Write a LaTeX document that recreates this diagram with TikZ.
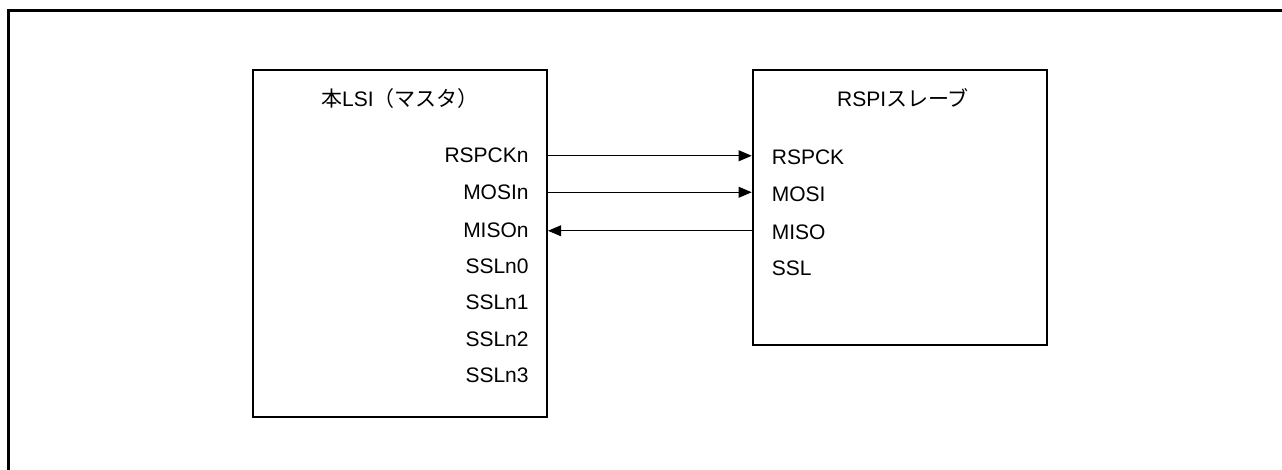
\documentclass[tikz,border=0pt]{standalone}
\usepackage{fontspec}
\setmainfont{Liberation Sans}
\newfontfamily\jpfont{Noto Sans CJK JP}
\usetikzlibrary{arrows.meta}
\begin{document}
\begin{tikzpicture}[x=0.5pt,y=0.5pt,
  every node/.style={font=\fontsize{10.5pt}{12pt}\selectfont, inner sep=0pt},
  blockbox/.style={draw, line width=1pt, minimum width=147.15pt, inner sep=0pt},
  lbl/.style={anchor=base east},
  rlbl/.style={anchor=base west},
  sig/.style={line width=0.55pt, -{Triangle[length=6.5pt,width=5.4pt]}}]
\useasboundingbox (0,0) rectangle (1282,-470);
\begin{scope}
\clip (0,0) rectangle (1282,-470);
\draw[line width=1.35pt] (8.6,-480) -- (8.6,-10.8) -- (1295,-10.8);
\end{scope}
% boxes
\node[blockbox, minimum height=173.35pt] (lsi) at (399.85,-243.35) {};
\node[blockbox, minimum height=137.5pt] (slv) at (899.85,-207.5) {};
% titles
\node[anchor=base] (lsititle) at (400,-107) {{\jpfont 本}LSI{\jpfont （マスタ）}};
\node[anchor=base] (slvtitle) at (903,-107) {RSPI{\jpfont スレーブ}};
% left labels
\node[lbl] (rspckn) at (529,-163) {RSPCKn};
\node[lbl] (mosin) at (529,-199.5) {MOSIn};
\node[lbl] (mison) at (529,-238) {MISOn};
\node[lbl] (ssln0) at (529,-273.5) {SSLn0};
\node[lbl] (ssln1) at (529,-310) {SSLn1};
\node[lbl] (ssln2) at (529,-346.5) {SSLn2};
\node[lbl] (ssln3) at (529,-383) {SSLn3};
% right labels
\node[rlbl] (rspck) at (771.5,-165) {RSPCK};
\node[rlbl] (mosi) at (771.5,-201.5) {MOSI};
\node[rlbl] (miso) at (771.5,-239.5) {MISO};
\node[rlbl] (ssl) at (771.5,-276) {SSL};
% connectors
\draw[sig] (lsi.east |- rspckn.east) -- (slv.west |- rspckn.east);
\draw[sig] (lsi.east |- mosin.east) -- (slv.west |- mosin.east);
\draw[sig] (slv.west |- mison.east) -- (lsi.east |- mison.east);
\end{tikzpicture}
\end{document}
